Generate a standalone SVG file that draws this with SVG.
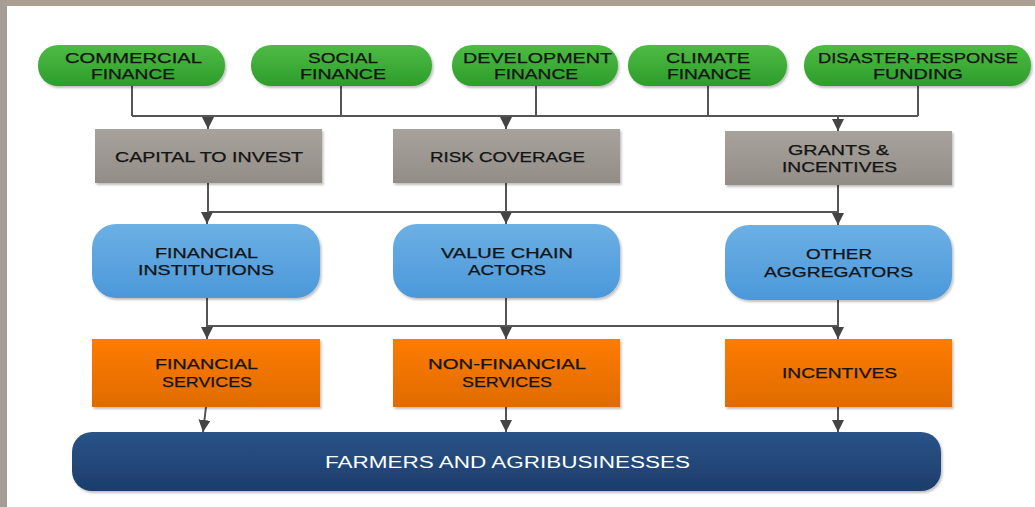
<svg xmlns="http://www.w3.org/2000/svg" width="1035" height="507" viewBox="0 0 1035 507">
<defs>
<style>
.t{font-family:"Liberation Sans",Arial,sans-serif;font-size:14px;font-weight:normal;fill:#141414;stroke:#141414;stroke-width:0.25}
.w{font-family:"Liberation Sans",Arial,sans-serif;font-size:16px;font-weight:normal;fill:#ffffff}
.c{stroke:#555555;stroke-width:2;fill:none}
.a{stroke:#555555;stroke-width:2;fill:none;marker-end:url(#ah)}
</style>
<linearGradient id="gG" x1="0" y1="0" x2="0" y2="1"><stop offset="0" stop-color="#4fbb45"/><stop offset="1" stop-color="#2c9d2a"/></linearGradient>
<linearGradient id="gY" x1="0" y1="0" x2="0" y2="1"><stop offset="0" stop-color="#a7a29c"/><stop offset="1" stop-color="#938d87"/></linearGradient>
<linearGradient id="gB" x1="0" y1="0" x2="0" y2="1"><stop offset="0" stop-color="#6cb0e4"/><stop offset="1" stop-color="#4b98da"/></linearGradient>
<linearGradient id="gO" x1="0" y1="0" x2="0" y2="1"><stop offset="0" stop-color="#fd7c00"/><stop offset="1" stop-color="#e06b04"/></linearGradient>
<linearGradient id="gD" x1="0" y1="0" x2="0" y2="1"><stop offset="0" stop-color="#2a5388"/><stop offset="1" stop-color="#1d3d6c"/></linearGradient>
<filter id="sh" x="-10%" y="-20%" width="120%" height="150%"><feDropShadow dx="1.5" dy="2" stdDeviation="1.2" flood-color="#000" flood-opacity="0.25"/></filter>
<marker id="ah" markerUnits="userSpaceOnUse" markerWidth="12" markerHeight="12" viewBox="0 0 10 10" refX="10" refY="5" orient="auto"><path d="M0,0 L10,5 L0,10 z" fill="#444444"/></marker>
</defs>
<rect x="0" y="0" width="1035" height="507" fill="#ffffff"/>
<rect x="0" y="0" width="1035" height="6" fill="#ab9f92"/>
<rect x="0" y="0" width="7" height="507" fill="#a69e96"/>

<g id="connectors">
<path class="c" d="M132,86 V116 M341,86 V116 M536,86 V116 M708,86 V116 M918,86 V116 M132,116 H918"/>
<path class="a" d="M208,116 V129"/>
<path class="a" d="M506,116 V129"/>
<path class="a" d="M838,116 V131"/>
<path class="c" d="M208,183 V212 M506,183 V212 M838,185 V212 M207,212 H838"/>
<path class="a" d="M207,212 V224"/>
<path class="a" d="M506,212 V224"/>
<path class="a" d="M838,212 V225"/>
<path class="c" d="M207,298 V326 M506,298 V326 M838,300 V326 M207,326 H838"/>
<path class="a" d="M207,326 V339"/>
<path class="a" d="M506,326 V339"/>
<path class="a" d="M838,326 V339"/>
<path class="a" d="M206,407 L203,432"/>
<path class="a" d="M506,407 V432"/>
<path class="a" d="M838,407 V432"/>
</g>

<g id="commercial-finance">
<rect x="38" y="45" width="187" height="41" rx="20" fill="url(#gG)" filter="url(#sh)"/>
<text class="t" x="65" y="63" textLength="137" lengthAdjust="spacingAndGlyphs">COMMERCIAL</text>
<text class="t" x="91" y="79" textLength="84" lengthAdjust="spacingAndGlyphs">FINANCE</text>
</g>
<g id="social-finance">
<rect x="251" y="45" width="181" height="41" rx="20" fill="url(#gG)" filter="url(#sh)"/>
<text class="t" x="308" y="63" textLength="70" lengthAdjust="spacingAndGlyphs">SOCIAL</text>
<text class="t" x="300" y="79" textLength="86" lengthAdjust="spacingAndGlyphs">FINANCE</text>
</g>
<g id="development-finance">
<rect x="452" y="45" width="166" height="41" rx="20" fill="url(#gG)" filter="url(#sh)"/>
<text class="t" x="463" y="63" textLength="149" lengthAdjust="spacingAndGlyphs">DEVELOPMENT</text>
<text class="t" x="494" y="79" textLength="84" lengthAdjust="spacingAndGlyphs">FINANCE</text>
</g>
<g id="climate-finance">
<rect x="628" y="45" width="159" height="41" rx="20" fill="url(#gG)" filter="url(#sh)"/>
<text class="t" x="666" y="63" textLength="84" lengthAdjust="spacingAndGlyphs">CLIMATE</text>
<text class="t" x="667" y="79" textLength="84" lengthAdjust="spacingAndGlyphs">FINANCE</text>
</g>
<g id="disaster-response-funding">
<rect x="804" y="45" width="227" height="41" rx="20" fill="url(#gG)" filter="url(#sh)"/>
<text class="t" x="818" y="63" textLength="200" lengthAdjust="spacingAndGlyphs">DISASTER-RESPONSE</text>
<text class="t" x="873" y="79" textLength="90" lengthAdjust="spacingAndGlyphs">FUNDING</text>
</g>

<g id="capital-to-invest">
<rect x="95" y="129" width="227" height="54" fill="url(#gY)" filter="url(#sh)"/>
<text class="t" x="115" y="162" textLength="188" lengthAdjust="spacingAndGlyphs">CAPITAL TO INVEST</text>
</g>
<g id="risk-coverage">
<rect x="393" y="129" width="227" height="54" fill="url(#gY)" filter="url(#sh)"/>
<text class="t" x="430" y="162" textLength="155" lengthAdjust="spacingAndGlyphs">RISK COVERAGE</text>
</g>
<g id="grants-incentives">
<rect x="725" y="131" width="227" height="54" fill="url(#gY)" filter="url(#sh)"/>
<text class="t" x="788" y="155" textLength="101" lengthAdjust="spacingAndGlyphs">GRANTS &amp;</text>
<text class="t" x="782" y="172" textLength="115" lengthAdjust="spacingAndGlyphs">INCENTIVES</text>
</g>

<g id="financial-institutions">
<rect x="92" y="224" width="228" height="74" rx="24" fill="url(#gB)" filter="url(#sh)"/>
<text class="t" x="155" y="258" textLength="103" lengthAdjust="spacingAndGlyphs">FINANCIAL</text>
<text class="t" x="138" y="275" textLength="136" lengthAdjust="spacingAndGlyphs">INSTITUTIONS</text>
</g>
<g id="value-chain-actors">
<rect x="393" y="224" width="227" height="74" rx="24" fill="url(#gB)" filter="url(#sh)"/>
<text class="t" x="441" y="258" textLength="132" lengthAdjust="spacingAndGlyphs">VALUE CHAIN</text>
<text class="t" x="468" y="275" textLength="78" lengthAdjust="spacingAndGlyphs">ACTORS</text>
</g>
<g id="other-aggregators">
<rect x="725" y="225" width="227" height="75" rx="24" fill="url(#gB)" filter="url(#sh)"/>
<text class="t" x="806" y="259" textLength="66" lengthAdjust="spacingAndGlyphs">OTHER</text>
<text class="t" x="764" y="277" textLength="149" lengthAdjust="spacingAndGlyphs">AGGREGATORS</text>
</g>

<g id="financial-services">
<rect x="92" y="339" width="228" height="68" fill="url(#gO)" filter="url(#sh)"/>
<text class="t" x="155" y="369" textLength="103" lengthAdjust="spacingAndGlyphs">FINANCIAL</text>
<text class="t" x="162" y="387" textLength="90" lengthAdjust="spacingAndGlyphs">SERVICES</text>
</g>
<g id="non-financial-services">
<rect x="393" y="339" width="227" height="68" fill="url(#gO)" filter="url(#sh)"/>
<text class="t" x="428" y="369" textLength="158" lengthAdjust="spacingAndGlyphs">NON-FINANCIAL</text>
<text class="t" x="462" y="387" textLength="90" lengthAdjust="spacingAndGlyphs">SERVICES</text>
</g>
<g id="incentives">
<rect x="725" y="339" width="227" height="68" fill="url(#gO)" filter="url(#sh)"/>
<text class="t" x="782" y="378" textLength="115" lengthAdjust="spacingAndGlyphs">INCENTIVES</text>
</g>

<g id="farmers-and-agribusinesses">
<rect x="72" y="432" width="869" height="59" rx="20" fill="url(#gD)" filter="url(#sh)"/>
<text class="w" x="325" y="468" textLength="365" lengthAdjust="spacingAndGlyphs">FARMERS AND AGRIBUSINESSES</text>
</g>
</svg>
